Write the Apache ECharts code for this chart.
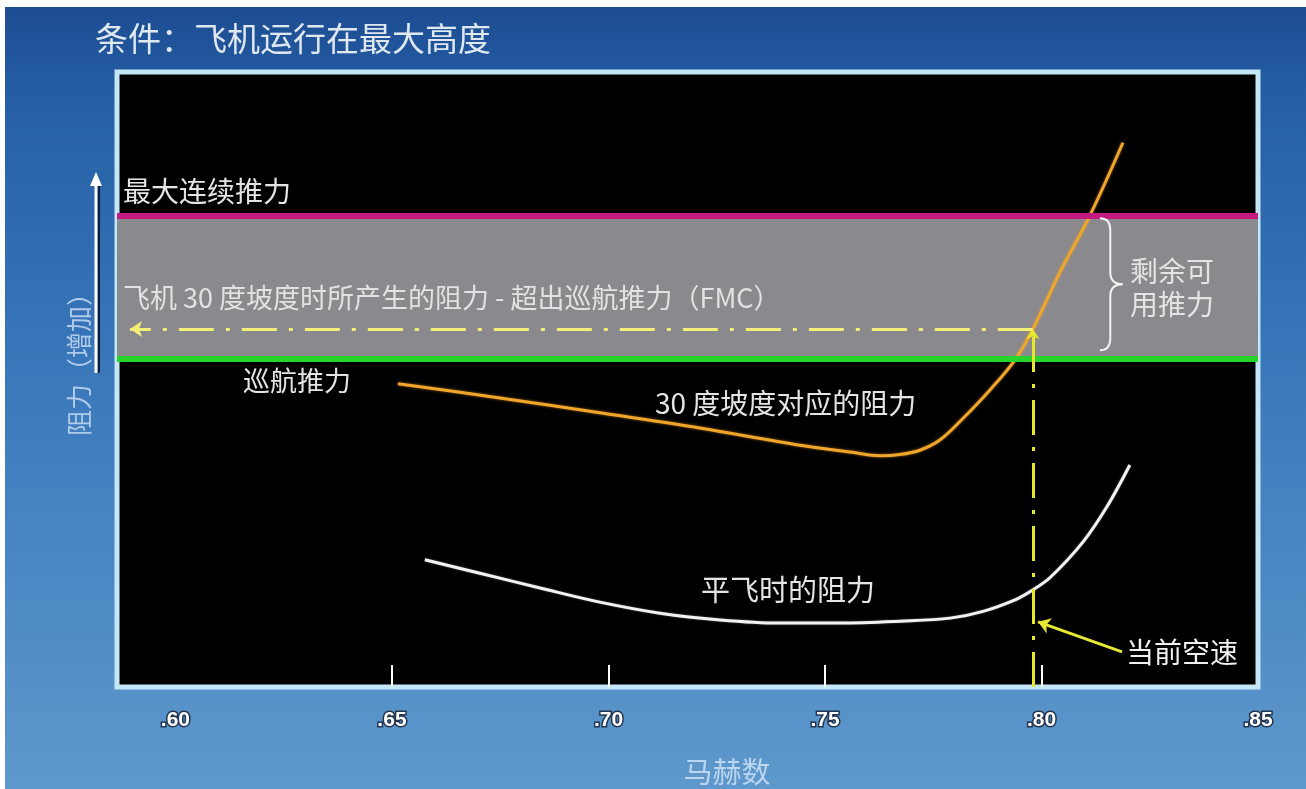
<!DOCTYPE html>
<html>
<head>
<meta charset="utf-8">
<script src="https://cdn.jsdelivr.net/npm/echarts@6/dist/echarts.min.js"></script>
<style>
  html, body { margin: 0; padding: 0; background: #ffffff; }
  #chart { width: 1306px; height: 789px; }
</style>
</head>
<body>
<div id="chart"></div>
<script>
// Mach number axis labels
const tickValues = [0.60, 0.65, 0.70, 0.75, 0.80, 0.85];
const tickLabels = ['.60', '.65', '.70', '.75', '.80', '.85'];
const innerTickValues = [0.65, 0.70, 0.75, 0.80];

// Drag in a 30 degree bank (relative drag units)
const bankMach = [0.6514, 0.6749, 0.6980, 0.7211, 0.7442, 0.7558, 0.7627, 0.7673, 0.7719, 0.7766, 0.7819, 0.7881, 0.7939, 0.7980, 0.8043, 0.8112, 0.8188];
const bankDrag = [49.3, 47.0, 44.6, 42.1, 39.3, 38.2, 37.6, 37.8, 38.5, 40.2, 43.7, 48.3, 53.2, 58.2, 67.5, 76.7, 88.5];

// Drag in level flight
const levelMach = [0.6576, 0.6703, 0.6842, 0.6980, 0.7119, 0.7258, 0.7396, 0.7535, 0.7673, 0.7789, 0.7865, 0.7943, 0.7978, 0.8020, 0.8096, 0.8151, 0.8204];
const levelDrag = [20.7, 18.5, 16.1, 13.8, 12.0, 10.9, 10.4, 10.4, 10.7, 11.2, 12.3, 14.3, 15.7, 17.8, 23.6, 29.3, 36.1];

// Thrust levels and the current operating point
const maxContinuousThrust = 76.7;
const cruiseThrust = 53.3;
const currentMach = 0.798;
const bankDragAtCurrent = 58.2;
const levelDragAtCurrent = 15.7;
const pointerTail = [0.8186, 5.7];
const pointerTip = [0.7992, 10.6];
const braceMach = 0.8135;

const zip = (xs, ys) => xs.map((x, i) => [x, ys[i]]);

const FONT = '"Noto Sans CJK SC", "Noto Sans", sans-serif';
const TEXT = '#e4e4e4';

function txt(text, x, y, size, extra) {
  return {
    type: 'text', x: x, y: y, silent: true, z: 50,
    style: Object.assign({
      text: text, fill: TEXT, fontSize: size, fontFamily: FONT,
      align: 'left', verticalAlign: 'middle',
      shadowBlur: 2, shadowColor: 'rgba(0,0,0,0.6)'
    }, extra || {})
  };
}

// Curly brace spanning the surplus thrust band
function renderBrace(params, api) {
  const top = api.coord([api.value(0), api.value(2)]);
  const bot = api.coord([api.value(0), api.value(1)]);
  const x0 = top[0];
  const yT = top[1] + 3;
  const yB = bot[1] - 9;
  const w = 23;
  const x1 = x0 + w * 0.45;
  const x2 = x0 + w;
  const mid = (yT + yB) / 2;
  const r = 12;
  const d = 'M' + x0 + ',' + yT +
    ' Q' + x1 + ',' + yT + ' ' + x1 + ',' + (yT + r) +
    ' L' + x1 + ',' + (mid - r) +
    ' Q' + x1 + ',' + mid + ' ' + x2 + ',' + mid +
    ' Q' + x1 + ',' + mid + ' ' + x1 + ',' + (mid + r) +
    ' L' + x1 + ',' + (yB - r) +
    ' Q' + x1 + ',' + yB + ' ' + x0 + ',' + yB;
  return {
    type: 'path',
    shape: { pathData: d },
    style: { fill: 'none', stroke: '#f2f2f2', lineWidth: 2 }
  };
}

const chart = echarts.init(document.getElementById('chart'), null, { renderer: 'canvas' });

const dashDot = [35, 12, 4, 12];

const option = {
  animation: false,
  backgroundColor: {
    type: 'linear', x: 0, y: 0, x2: 0, y2: 1,
    colorStops: [
      { offset: 0, color: '#1c4b91' },
      { offset: 0.12, color: '#255ea4' },
      { offset: 0.5, color: '#3c7abc' },
      { offset: 1, color: '#5e98cc' }
    ]
  },
  grid: {
    left: 117, right: 48, top: 72, bottom: 102,
    show: true,
    backgroundColor: '#000000',
    borderColor: '#c3e7f8',
    borderWidth: 5
  },
  xAxis: {
    type: 'value',
    min: 0.5865,
    max: 0.85,
    axisLine: { show: false },
    splitLine: { show: false },
    axisTick: {
      show: true, inside: true, length: 22,
      customValues: innerTickValues,
      lineStyle: { color: '#ffffff', width: 2 }
    },
    axisLabel: {
      customValues: tickValues,
      formatter: function (v) {
        let best = 0;
        tickValues.forEach((t, i) => { if (Math.abs(t - v) < Math.abs(tickValues[best] - v)) best = i; });
        return tickLabels[best];
      },
      margin: 23,
      color: '#ffffff',
      fontSize: 21,
      fontWeight: 'bold',
      fontFamily: '"Liberation Sans", sans-serif',
      textBorderColor: '#22354f',
      textBorderWidth: 3
    }
  },
  yAxis: {
    type: 'value', min: 0, max: 100, show: false
  },
  series: [
    {
      name: 'thrust',
      type: 'line',
      data: [],
      z: 1,
      silent: true,
      markArea: {
        silent: true,
        itemStyle: { color: '#8a8a8e' },
        data: [[{ yAxis: cruiseThrust }, { yAxis: maxContinuousThrust }]]
      },
      markLine: {
        silent: true,
        symbol: 'none',
        label: { show: false },
        data: [
          { yAxis: maxContinuousThrust, lineStyle: { color: '#c41a80', width: 6, type: 'solid' } },
          { yAxis: cruiseThrust, lineStyle: { color: '#27d42c', width: 6, type: 'solid' } }
        ]
      }
    },
    {
      name: '30 度坡度对应的阻力',
      type: 'line',
      z: 3,
      smooth: 0.35,
      showSymbol: false,
      data: zip(bankMach, bankDrag),
      lineStyle: { color: '#f0a62a', width: 3, shadowBlur: 3, shadowColor: 'rgba(240,160,40,0.6)' }
    },
    {
      name: '平飞时的阻力',
      type: 'line',
      z: 3,
      smooth: 0.35,
      showSymbol: false,
      data: zip(levelMach, levelDrag),
      lineStyle: { color: '#f2f2f2', width: 3, shadowBlur: 2, shadowColor: 'rgba(255,255,255,0.4)' }
    },
    {
      name: 'guides',
      type: 'line',
      data: [],
      z: 4,
      silent: true,
      markLine: {
        silent: true,
        label: { show: false },
        symbolSize: [0, 12],
        data: [
          [
            { coord: [currentMach, bankDragAtCurrent], symbol: 'none' },
            { coord: [0.5895, bankDragAtCurrent], symbol: 'arrow', symbolSize: 12,
              lineStyle: { color: '#f2ee78', width: 3, type: dashDot } }
          ],
          [
            { coord: [currentMach, 0], symbol: 'none' },
            { coord: [currentMach, bankDragAtCurrent], symbol: 'arrow', symbolSize: 10,
              lineStyle: { color: '#e8e82a', width: 3, type: dashDot } }
          ],
          [
            { coord: [currentMach, pointerTip[1]], symbol: 'none' },
            { coord: [currentMach, levelDragAtCurrent], symbol: 'none',
              lineStyle: { color: '#e8e82a', width: 3, type: 'solid' } }
          ],
          [
            { coord: pointerTail, symbol: 'none' },
            { coord: pointerTip, symbol: 'arrow', symbolSize: 12,
              lineStyle: { color: '#e6e832', width: 3, type: 'solid' } }
          ]
        ]
      }
    },
    {
      name: 'brace',
      type: 'custom',
      z: 5,
      silent: true,
      renderItem: renderBrace,
      encode: { x: 0, y: [1, 2] },
      data: [[braceMach, cruiseThrust, maxContinuousThrust]]
    }
  ],
  graphic: [
    // white edges of the slide
    { type: 'rect', shape: { x: 0, y: 0, width: 1306, height: 7 }, style: { fill: '#ffffff' }, silent: true, z: 60 },
    { type: 'rect', shape: { x: 0, y: 0, width: 5, height: 789 }, style: { fill: '#ffffff' }, silent: true, z: 60 },

    txt('条件：飞机运行在最大高度', 95, 38, 33, { fill: '#dfe7ef', shadowBlur: 3, shadowColor: 'rgba(0,10,40,0.8)' }),
    txt('最大连续推力', 123, 191, 28),
    txt('飞机 30 度坡度时所产生的阻力 - 超出巡航推力（FMC）', 123, 298, 27, { fill: '#e2e2e2' }),
    txt('巡航推力', 243, 381, 27),
    txt('30 度坡度对应的阻力', 655, 403, 28),
    txt('平飞时的阻力', 701, 590, 29),
    txt('剩余可\n用推力', 1130, 288, 28, { lineHeight: 33 }),
    txt('当前空速', 1126, 652, 28, { fill: '#f0f0f0' }),

    // axis captions
    txt('马赫数', 727, 772, 29, { fill: '#bcd6ef', align: 'center', shadowBlur: 2, shadowColor: 'rgba(0,20,60,0.5)' }),
    {
      type: 'text', x: 79, y: 358, rotation: Math.PI / 2, silent: true, z: 50,
      style: {
        text: '阻力（增加）', fill: '#bcd4ee', fontSize: 26, fontFamily: FONT,
        align: 'center', verticalAlign: 'middle', opacity: 0.9,
        shadowBlur: 2, shadowColor: 'rgba(0,20,60,0.5)'
      }
    },
    // upward arrow beside the drag caption
    {
      type: 'line', silent: true, z: 50,
      shape: { x1: 96, y1: 373, x2: 96, y2: 182 },
      style: { stroke: '#ffffff', lineWidth: 3, shadowOffsetX: 2, shadowColor: 'rgba(5,20,50,0.9)', shadowBlur: 1 }
    },
    {
      type: 'polygon', silent: true, z: 50,
      shape: { points: [[96, 172], [90, 186], [102, 186]] },
      style: { fill: '#ffffff' }
    }
  ]
};

chart.setOption(option);
</script>
</body>
</html>
